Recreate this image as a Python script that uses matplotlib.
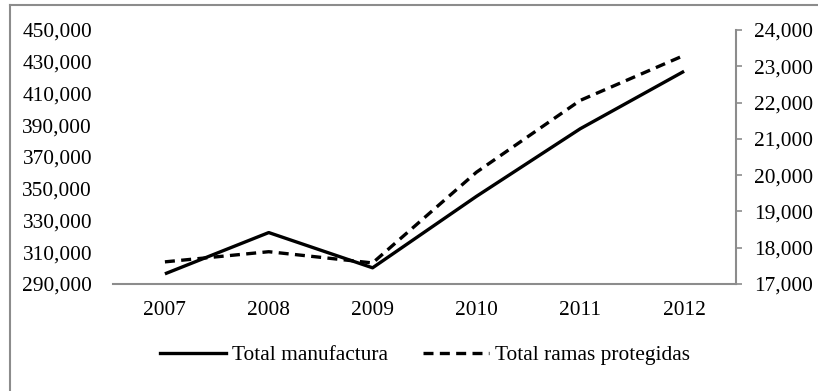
import matplotlib
matplotlib.use("Agg")
import matplotlib.pyplot as plt
from matplotlib.lines import Line2D
from matplotlib.ticker import FuncFormatter

plt.rcParams['font.family'] = ['Liberation Serif', 'DejaVu Serif']

years = ["2007", "2008", "2009", "2010", "2011", "2012"]
total_manufactura = [296400, 322400, 300200, 345200, 387800, 424000]
total_ramas_protegidas = [17610, 17890, 17580, 20080, 22060, 23300]
left_ticks = [290000, 310000, 330000, 350000, 370000, 390000, 410000, 430000, 450000]
right_ticks = [17000, 18000, 19000, 20000, 21000, 22000, 23000, 24000]

W, H = 818, 391
fig = plt.figure(figsize=(W / 100, H / 100), dpi=100)
ax = fig.add_axes([113 / W, 1 - 284 / H, (736 - 113) / W, (284 - 30) / H])
ax2 = ax.twinx()

grey = "#8c8c8c"
fs = 15.4
x = range(len(years))
dash = (3.0, 1.9)

ax.plot(x, total_manufactura, color="black", lw=2.4, solid_capstyle="butt",
        label="Total manufactura")
ax2.plot(x, total_ramas_protegidas, color="black", lw=2.4, dashes=dash,
         label="Total ramas protegidas")

ax.set_xlim(-0.5, len(years) - 0.5)
ax.set_xticks(list(x))
ax.set_xticklabels(years)
ax.set_ylim(left_ticks[0], left_ticks[-1])
ax.set_yticks(left_ticks)
ax2.set_ylim(right_ticks[0], right_ticks[-1])
ax2.set_yticks(right_ticks)

fmt = FuncFormatter(lambda v, p: f"{v:,.0f}")
ax.yaxis.set_major_formatter(fmt)
ax2.yaxis.set_major_formatter(fmt)

for a in (ax, ax2):
    for s in a.spines.values():
        s.set_visible(False)
ax.spines["bottom"].set_visible(True)
ax.spines["bottom"].set_color(grey)
ax.spines["bottom"].set_linewidth(1.5)
ax2.spines["right"].set_visible(True)
ax2.spines["right"].set_color(grey)
ax2.spines["right"].set_linewidth(1.5)

ax.tick_params(axis="x", length=0, labelsize=fs, pad=12)
ax.tick_params(axis="y", length=0, labelsize=fs, pad=15)
ax2.tick_params(axis="y", direction="out", length=4, width=1.2, color=grey,
                labelsize=fs, pad=9)

handles = [Line2D([], [], color="black", lw=2.4),
           Line2D([], [], color="black", lw=2.4, dashes=dash)]
fig.legend(handles, ["Total manufactura", "Total ramas protegidas"],
           loc="center", bbox_to_anchor=(425 / W, 1 - 355 / H), ncol=2,
           frameon=False, fontsize=fs, handlelength=3.1, handletextpad=0.3,
           columnspacing=1.6)

# outer frame of the chart area
fig.add_artist(Line2D([10 / W, 10 / W], [0, 1 - 5 / H], transform=fig.transFigure,
                      color=grey, lw=1.5))
fig.add_artist(Line2D([10 / W, 1], [1 - 5 / H, 1 - 5 / H], transform=fig.transFigure,
                      color=grey, lw=1.5))

fig.savefig("out.png", dpi=100)
